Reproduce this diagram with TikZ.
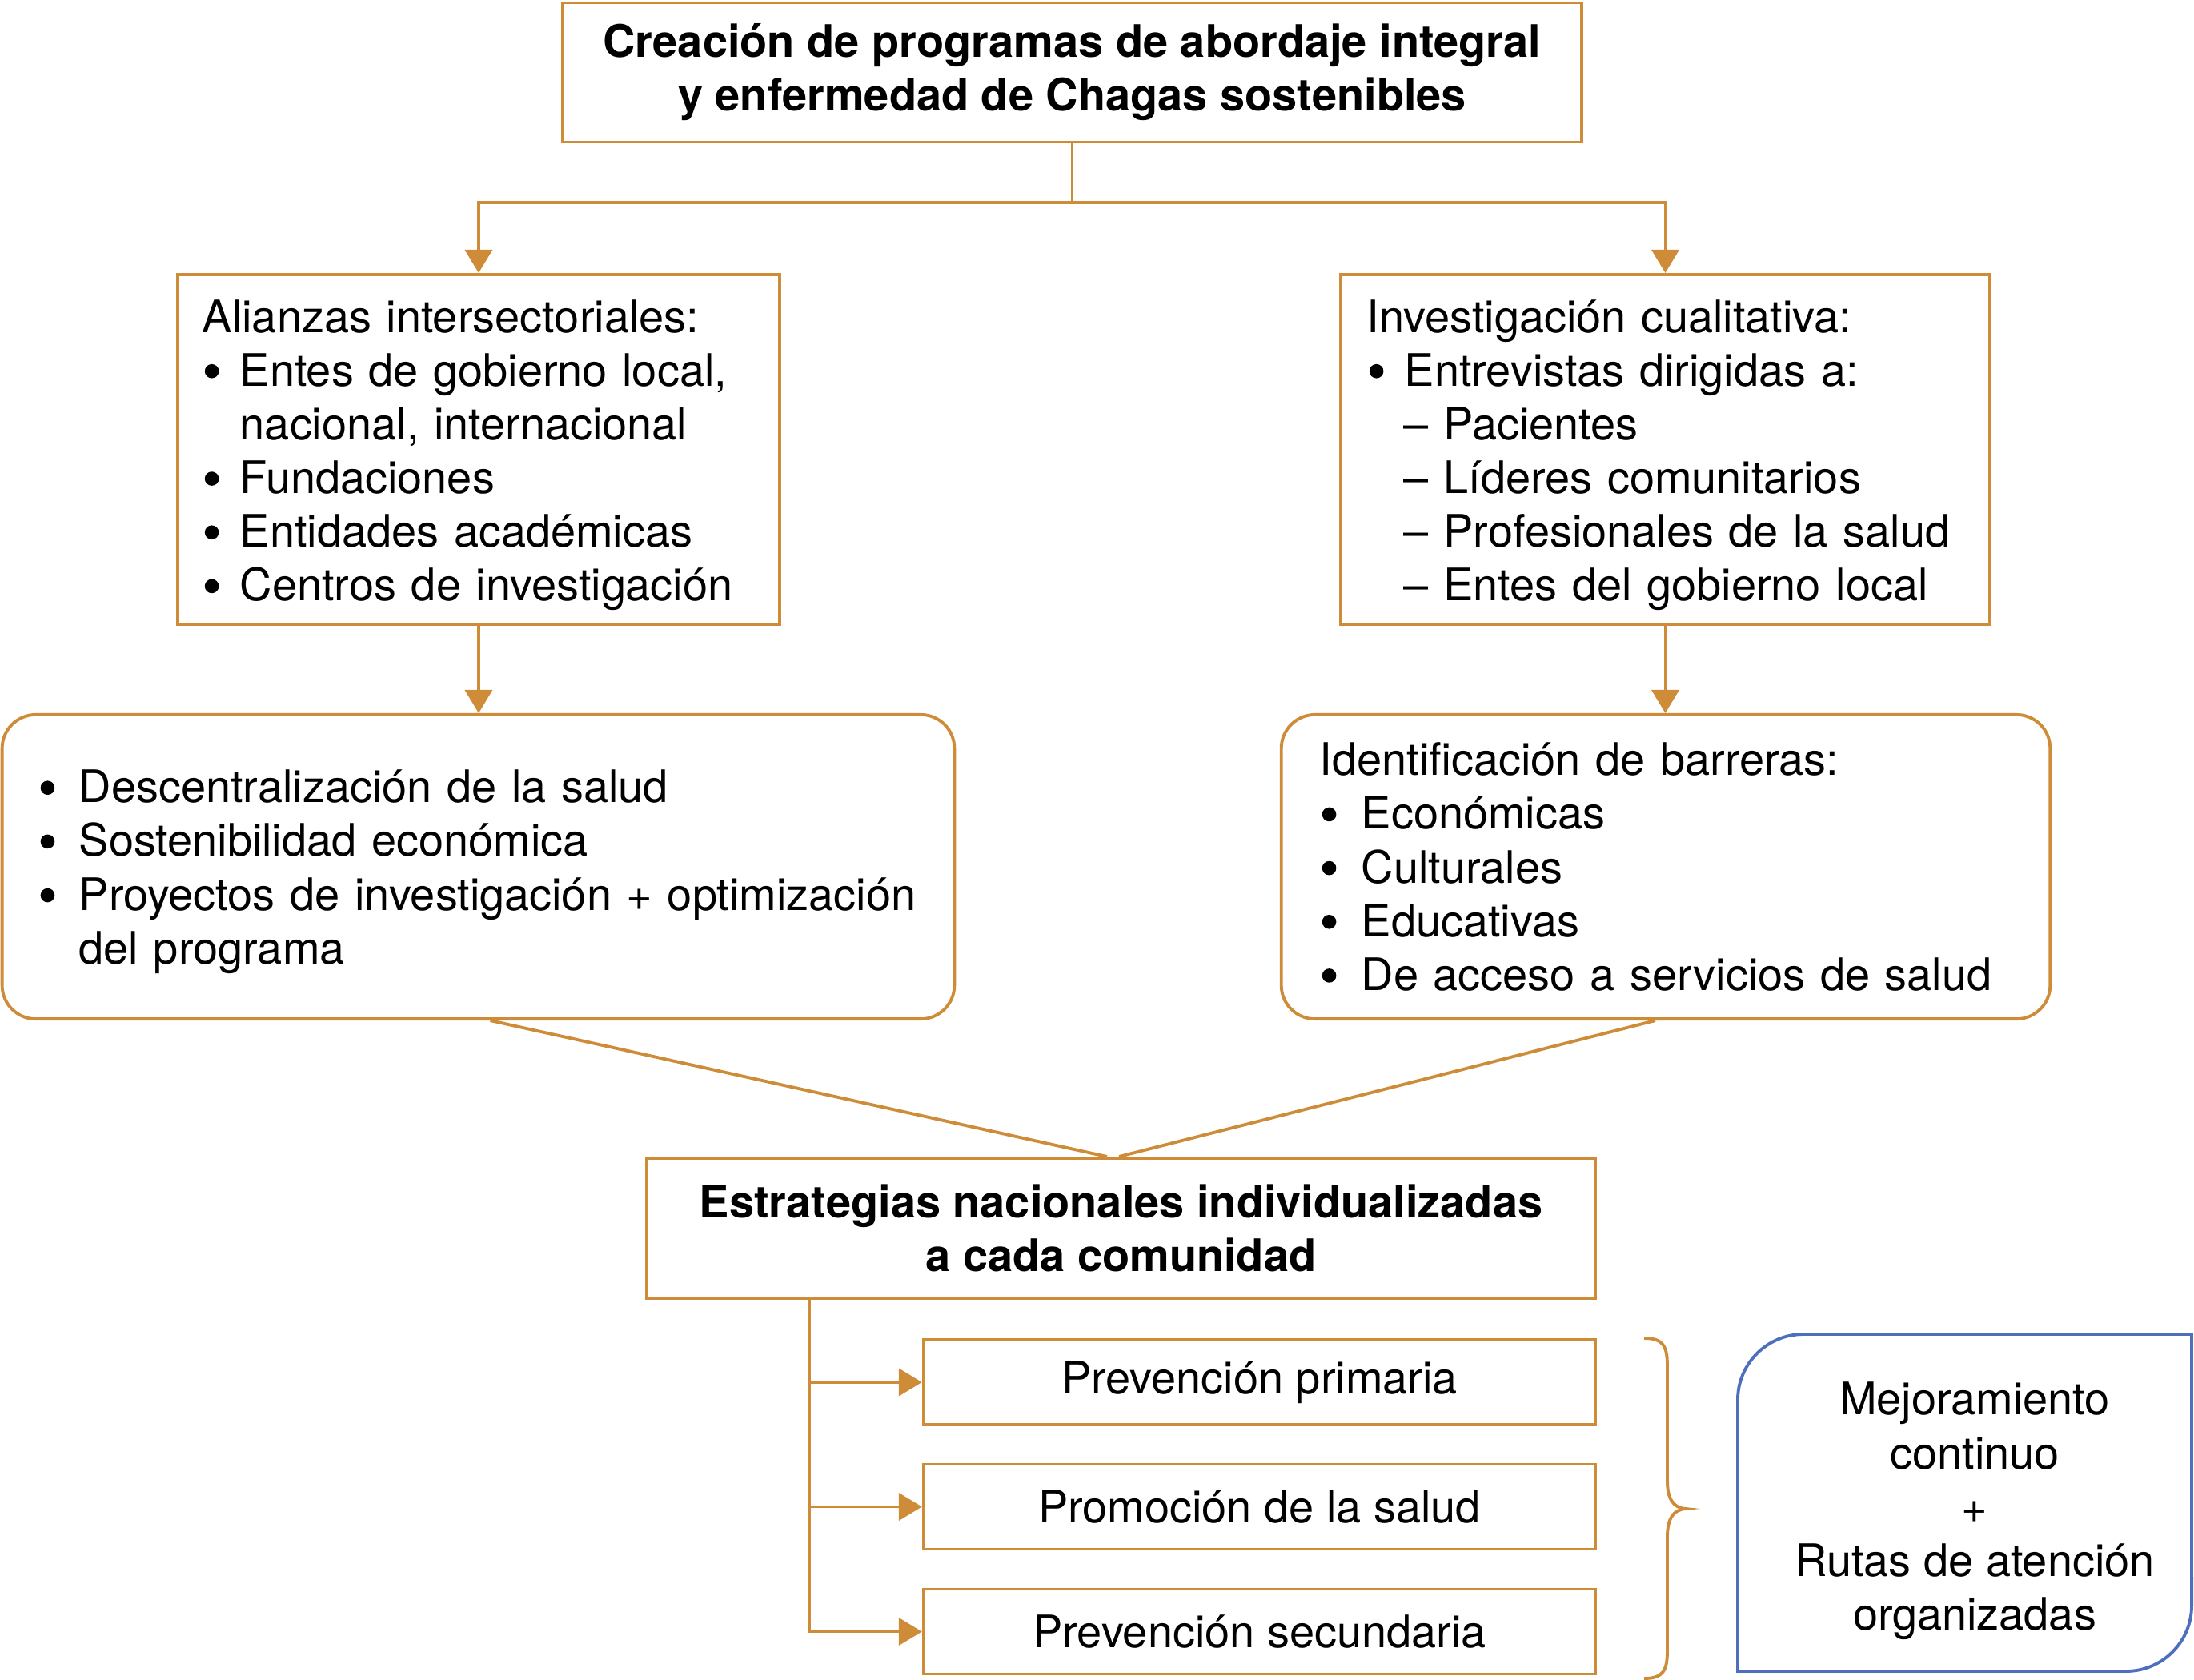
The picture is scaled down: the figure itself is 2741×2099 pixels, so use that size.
\documentclass[tikz,border=0pt]{standalone}
\usepackage{fontspec}
\setmainfont{TeX Gyre Heros}
\usetikzlibrary{arrows.meta}
\definecolor{org}{RGB}{206,139,56}
\definecolor{blu}{RGB}{78,111,190}
\newcommand{\dotb}{\tikz[baseline=-0.33em]\fill (0,0) circle (0.088cm);}
\newcommand{\bul}[1][0.47cm]{\makebox[#1][l]{\hspace{0.03cm}\dotb}}
\begin{document}
\begin{tikzpicture}[x=0.01cm,y=-0.01cm,
  font=\fontsize{15.9pt}{19.1pt}\selectfont,
  bf/.style={font=\fontsize{15.9pt}{19.1pt}\selectfont\bfseries},
  box/.style={draw=org, line width=1.1pt, inner sep=0pt},
  rbox/.style={box, rounded corners=0.42cm},
  arr/.style={draw=org, line width=1.1pt, -{Triangle[length=0.29cm,width=0.34cm]}},
  ln/.style={draw=org, line width=1.1pt}]
\useasboundingbox (0,0) rectangle (2741,2099);

% top box
\node[box, bf, minimum width=12.73cm, minimum height=1.74cm, align=center] (top) at (1339.5,90.5)
  {Creación de programas de abordaje integral\\y enfermedad de Chagas sostenibles};

% second row
\node[box, text width=6.90cm, inner xsep=0.31cm, minimum height=4.37cm, align=left] (ali) at (598,561.5)
  {\rule{0pt}{0.55cm}Alianzas intersectoriales:\\
   \bul Entes de gobierno local,\\
   \hspace*{0.47cm}nacional, internacional\\
   \bul Fundaciones\\
   \bul Entidades académicas\\
   \bul Centros de investigación};
\node[box, text width=7.45cm, inner xsep=0.33cm, minimum height=4.37cm, align=left] (inv) at (2080.5,561.5)
  {\rule{0pt}{0.55cm}Investigación cualitativa:\\
   \bul Entrevistas dirigidas a:\\
   \hspace*{0.46cm}– Pacientes\\
   \hspace*{0.46cm}– Líderes comunitarios\\
   \hspace*{0.46cm}– Profesionales de la salud\\
   \hspace*{0.46cm}– Entes del gobierno local};

% third row
\node[rbox, text width=10.99cm, inner xsep=0.45cm, minimum height=3.80cm, align=left] (dec) at (597.5,1083)
  {\rule{0pt}{0.53cm}\bul[0.51cm]Descentralización de la salud\\
   \bul[0.51cm]Sostenibilidad económica\\
   \bul[0.51cm]\mbox{Proyectos de investigación + optimización}\\
   \hspace*{0.51cm}del programa};
\node[rbox, text width=8.64cm, inner xsep=0.48cm, minimum height=3.80cm, align=left] (bar) at (2081,1083)
  {Identificación de barreras:\\
   \bul[0.52cm]Económicas\\
   \bul[0.52cm]Culturales\\
   \bul[0.52cm]Educativas\\
   \bul[0.52cm]De acceso a servicios de salud};

% strategies
\node[box, bf, minimum width=11.85cm, minimum height=1.75cm, align=center] (est) at (1400.5,1534.5)
  {Estrategias nacionales individualizadas\\a cada comunidad};

\node[box, minimum width=8.39cm, minimum height=1.06cm] (p1) at (1573.5,1727) {Prevención primaria};
\node[box, minimum width=8.39cm, minimum height=1.06cm] (p2) at (1573.5,1882.5) {Promoción de la salud};
\node[box, minimum width=8.39cm, minimum height=1.06cm] (p3) at (1573.5,2038.5) {Prevención secundaria};

% blue box
\draw[blu, line width=1.1pt] (2738,1667) -- (2253,1667)
  arc[start angle=90, end angle=180, radius=0.82cm] -- (2171,2088) -- (2656,2088)
  arc[start angle=270, end angle=360, radius=0.82cm] -- cycle;
\node[align=center] (mej) at (2467,1888)
  {Mejoramiento\\continuo\\+\\Rutas de atención\\organizadas};

% brace
\draw[org, line width=1.1pt] (2054,1672) .. controls (2078,1672) and (2083,1682) .. (2083,1707)
  -- (2083,1850) .. controls (2083,1872) and (2090,1884) .. (2106,1885)
  .. controls (2090,1886) and (2083,1898) .. (2083,1920)
  -- (2083,2062) .. controls (2083,2087) and (2078,2097) .. (2054,2097);

% connectors
\coordinate (j1) at (1339.5,253);
\draw[ln] (top.south) -- (j1);
\draw[arr] (j1) -| (ali.north);
\draw[arr] (j1) -| (inv.north);
\draw[arr] (ali.south) -- (ali.south |- dec.north);
\draw[arr] (inv.south) -- (inv.south |- bar.north);
\draw[ln] ([xshift=0.15cm]dec.south) -- ([xshift=-0.175cm]est.north);
\draw[ln] ([xshift=-0.13cm]bar.south) -- ([xshift=-0.025cm]est.north);
\coordinate (v) at ([xshift=2.05cm]est.south west);
\foreach \p in {p1,p2,p3} \draw[arr] (v) |- (\p.west);
\end{tikzpicture}
\end{document}
